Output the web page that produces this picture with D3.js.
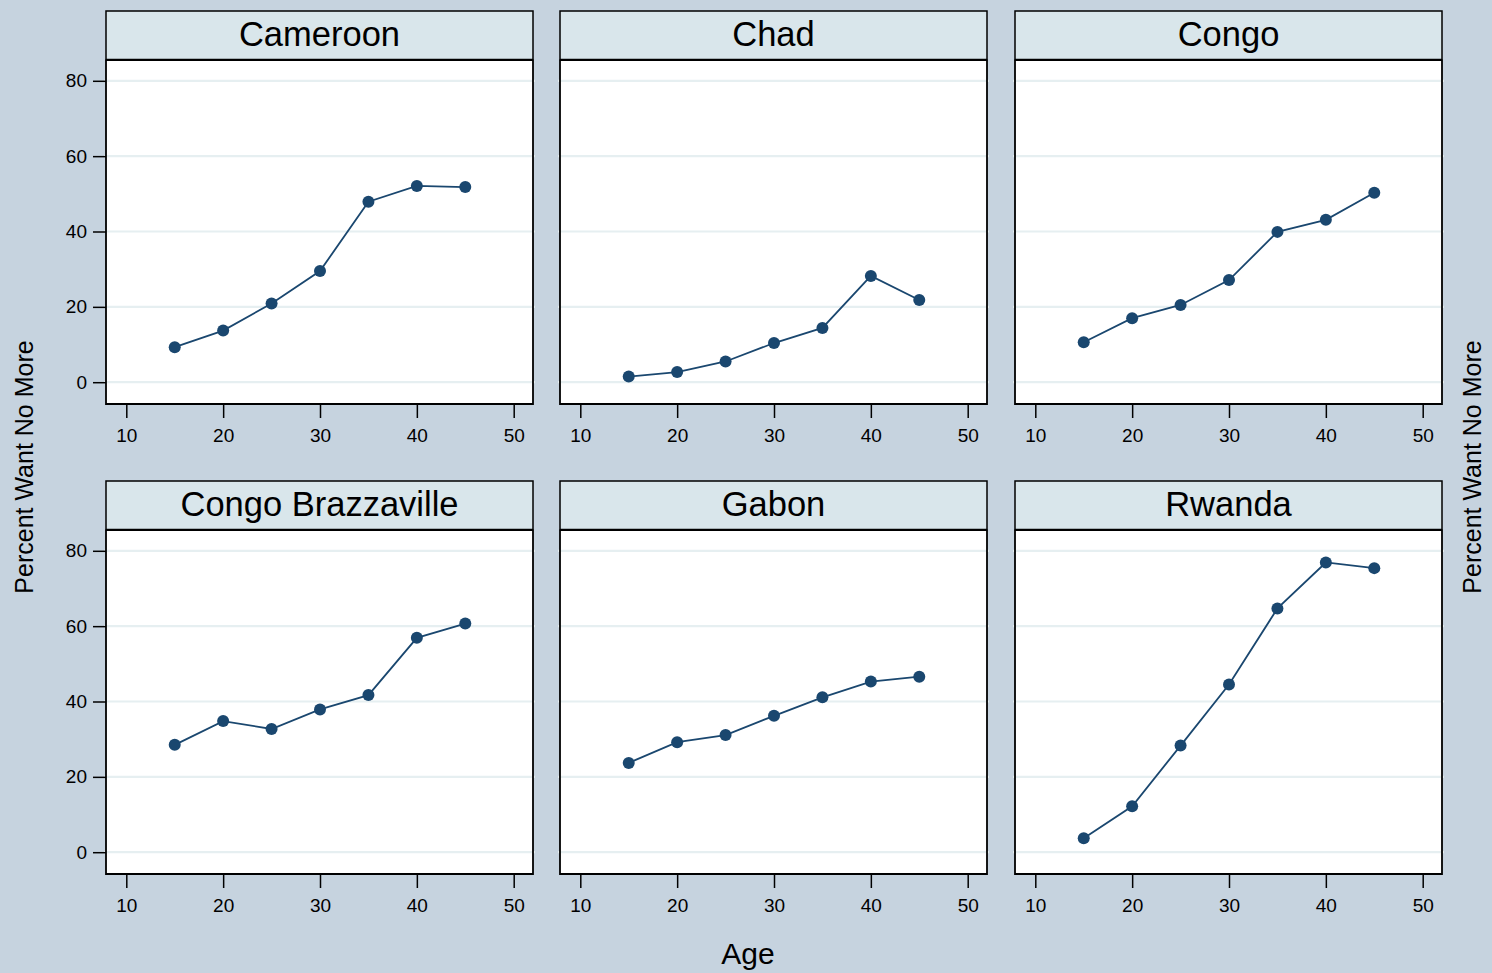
<!DOCTYPE html>
<html><head><meta charset="utf-8">
<script src="https://cdn.jsdelivr.net/npm/d3@7"></script>
<style>
html,body{margin:0;padding:0;background:#c6d3df;}
svg{display:block;}
text{font-family:"Liberation Sans",Arial,Helvetica,sans-serif;fill:#000;}
</style></head>
<body>
<svg id="chart" width="1492" height="973"></svg>
<script>
const ages = [15, 20, 25, 30, 35, 40, 45];
const countries = ["Cameroon", "Chad", "Congo", "Congo Brazzaville", "Gabon", "Rwanda"];
const cameroon = [9.3, 13.7, 20.9, 29.5, 47.9, 52.1, 51.8];
const chad = [1.5, 2.7, 5.5, 10.4, 14.4, 28.2, 21.8];
const congo = [10.6, 17.0, 20.5, 27.1, 39.9, 43.1, 50.3];
const congoBrazzaville = [28.5, 34.8, 32.7, 37.9, 41.7, 56.9, 60.7];
const gabon = [23.7, 29.2, 31.1, 36.2, 41.1, 45.3, 46.6];
const rwanda = [3.7, 12.2, 28.3, 44.5, 64.7, 76.9, 75.4];
const xTicks = [10, 20, 30, 40, 50];
const yTicks = [0, 20, 40, 60, 80];
const yTitle = "Percent Want No More";
const xTitle = "Age";

const seriesValues = [cameroon, chad, congo, congoBrazzaville, gabon, rwanda];

const svg = d3.select("#chart");
const colLeft = [106, 560, 1015];
const rowTop = [11, 481];
const panelW = 427;
const headerH = 48.5;
const plotH = 344.5;
const navy = "#1a476f";
const tickFont = '"Liberation Sans",Arial,sans-serif';

// scales (relative to plot area)
const x = d3.scaleLinear().domain([10, 50]).range([20.3, 407.7]);
const y = d3.scaleLinear().domain([0, 80]).range([322.7, 21.3]);

countries.forEach((name, i) => {
  const col = i % 3, row = Math.floor(i / 3);
  const px = colLeft[col], py = rowTop[row] + headerH;
  const g = svg.append("g").attr("transform", `translate(${px},${py})`);

  // header
  const hg = svg.append("g").attr("transform", `translate(${px},${rowTop[row]})`);
  hg.append("rect").attr("x", 0).attr("y", 0).attr("width", panelW).attr("height", headerH)
    .attr("fill", "#d9e6eb").attr("stroke", "#000").attr("stroke-width", 1.5);
  hg.append("text").attr("x", panelW / 2).attr("y", 35).attr("text-anchor", "middle")
    .attr("font-size", 34.5).text(name);

  // plot background
  g.append("rect").attr("x", 0).attr("y", 0).attr("width", panelW).attr("height", plotH).attr("fill", "#fff");

  // gridlines
  g.selectAll("line.grid").data(yTicks).enter().append("line").attr("class", "grid")
    .attr("x1", -2).attr("x2", panelW + 2)
    .attr("y1", d => y(d)).attr("y2", d => y(d))
    .attr("stroke", "#e6eff1").attr("stroke-width", 2.2);

  // frame: left, right, bottom
  g.append("path").attr("d", `M0,0V${plotH}H${panelW}V0`).attr("fill", "none")
    .attr("stroke", "#000").attr("stroke-width", 1.8);
  // header bottom thick line
  g.append("line").attr("x1", 0).attr("x2", panelW).attr("y1", 0).attr("y2", 0)
    .attr("stroke", "#000").attr("stroke-width", 2.8);

  // x axis
  const xa = g.append("g").attr("transform", `translate(0,${plotH})`)
    .call(d3.axisBottom(x).tickValues(xTicks).tickSize(14).tickPadding(11).tickFormat(d3.format("d")));
  xa.select(".domain").remove();
  xa.selectAll(".tick line").attr("stroke", "#000").attr("stroke-width", 1.5);
  xa.selectAll(".tick text").attr("font-size", 19).attr("font-family", tickFont).attr("fill", "#000");

  // y axis (first column only labels)
  if (col === 0) {
    const ya = g.append("g")
      .call(d3.axisLeft(y).tickValues(yTicks).tickSize(13).tickPadding(6).tickFormat(d3.format("d")));
    ya.select(".domain").remove();
    ya.selectAll(".tick line").attr("stroke", "#000").attr("stroke-width", 1.5);
    ya.selectAll(".tick text").attr("font-size", 19).attr("font-family", tickFont).attr("fill", "#000");
  }

  const data = ages.map((a, k) => ({a, v: seriesValues[i][k]}));
  const line = d3.line().x(d => x(d.a)).y(d => y(d.v));
  g.append("path").datum(data).attr("d", line).attr("fill", "none")
    .attr("stroke", navy).attr("stroke-width", 1.8);
  g.selectAll("circle.pt").data(data).enter().append("circle").attr("class", "pt")
    .attr("cx", d => x(d.a)).attr("cy", d => y(d.v)).attr("r", 6).attr("fill", navy);
});

// axis titles
svg.append("text").attr("transform", "translate(33,467) rotate(-90)").attr("text-anchor", "middle")
  .attr("font-size", 25).text(yTitle);
svg.append("text").attr("transform", "translate(1481,467) rotate(-90)").attr("text-anchor", "middle")
  .attr("font-size", 25).text(yTitle);
svg.append("text").attr("x", 748).attr("y", 964).attr("text-anchor", "middle")
  .attr("font-size", 30).text(xTitle);
</script>
</body></html>
